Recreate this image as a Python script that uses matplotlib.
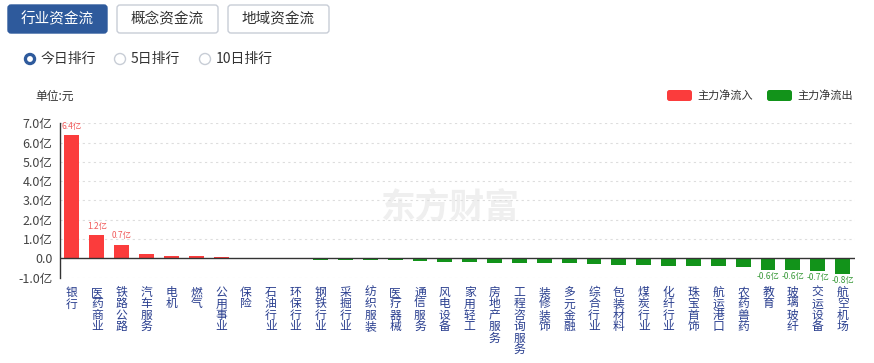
import matplotlib.pyplot as plt
from matplotlib.patches import FancyBboxPatch, Circle
import numpy as np

plt.rcParams['font.family'] = ['Noto Sans CJK SC', 'DejaVu Sans']

RED_COLOR = '#fb3c3c'
GREEN_COLOR = '#12931a'
LABEL_COLOR = '#2a3f8f'

sectors = ['银行', '医药商业', '铁路公路', '汽车服务', '电机', '燃气', '公用事业', '保险',
           '石油行业', '环保行业', '钢铁行业', '采掘行业', '纺织服装', '医疗器械', '通信服务',
           '风电设备', '家用轻工', '房地产服务', '工程咨询服务', '装修装饰', '多元金融',
           '综合行业', '包装材料', '煤炭行业', '化纤行业', '珠宝首饰', '航运港口', '农药兽药',
           '教育', '玻璃玻纤', '交运设备', '航空机场']
net_flow = [6.4, 1.2, 0.72, 0.24, 0.15, 0.15, 0.07, 0.04,
            0.01, -0.01, -0.07, -0.08, -0.09, -0.10, -0.12,
            -0.20, -0.20, -0.22, -0.22, -0.24, -0.26,
            -0.27, -0.33, -0.36, -0.38, -0.39, -0.41, -0.43,
            -0.58, -0.60, -0.67, -0.81]
labelled = [0, 1, 2, 28, 29, 30, 31]
y_ticks = [-1, 0, 1, 2, 3, 4, 5, 6, 7]

W, H = 874, 363
fig = plt.figure(figsize=(W / 100, H / 100), dpi=100)

# background layer in pixel coordinates for the page controls
bg = fig.add_axes([0, 0, 1, 1], zorder=0)
bg.set_xlim(0, W)
bg.set_ylim(H, 0)
bg.axis('off')

buttons = [('行业资金流', 8, 107, True), ('概念资金流', 117, 218, False), ('地域资金流', 228, 329, False)]
for text, x0, x1, active in buttons:
    face = '#2e5a9c' if active else 'white'
    edge = '#2e5a9c' if active else '#c8cdd6'
    bg.add_patch(FancyBboxPatch((x0, 5), x1 - x0, 28, boxstyle='round,pad=0,rounding_size=3',
                                facecolor=face, edgecolor=edge, lw=1))
    bg.text((x0 + x1) / 2, 19.5, text, ha='center', va='center', fontsize=10.5,
            color='white' if active else '#333333')

radios = [('今日排行', 30, True), ('5日排行', 120, False), ('10日排行', 205, False)]
for text, cx, active in radios:
    if active:
        bg.add_patch(Circle((cx, 59), 5.5, facecolor='#2e5a9c', edgecolor='#2e5a9c'))
        bg.add_patch(Circle((cx, 59), 2.2, facecolor='white', edgecolor='white'))
    else:
        bg.add_patch(Circle((cx, 59), 5.5, facecolor='white', edgecolor='#c8cdd6', lw=1))
    bg.text(cx + 11, 59, text, ha='left', va='center', fontsize=10, color='#333333')

bg.text(35, 96, '单位:元', ha='left', va='center', fontsize=8.5, color='#333333')

# legend
bg.add_patch(FancyBboxPatch((667, 90), 25, 11, boxstyle='round,pad=0,rounding_size=2.5',
                            facecolor=RED_COLOR, edgecolor='none'))
bg.text(697, 95.5, '主力净流入', ha='left', va='center', fontsize=8, color='#333333')
bg.add_patch(FancyBboxPatch((767, 90), 25, 11, boxstyle='round,pad=0,rounding_size=2.5',
                            facecolor=GREEN_COLOR, edgecolor='none'))
bg.text(797, 95.5, '主力净流出', ha='left', va='center', fontsize=8, color='#333333')

# watermark
bg.text(450, 207, '东方财富', ha='center', va='center', fontsize=25, fontweight='bold',
        color='#efefef', zorder=0.5)

# main chart
left, right = 59.5 / W, 855 / W
bottom, top = 1 - 277.7 / H, 1 - 123.3 / H
ax = fig.add_axes([left, bottom, right - left, top - bottom], zorder=1)
ax.patch.set_alpha(0)

x = np.arange(len(sectors))
colors = [RED_COLOR if v >= 0 else GREEN_COLOR for v in net_flow]
ax.bar(x, net_flow, width=0.6, color=colors, zorder=3)

for i in labelled:
    v = net_flow[i]
    txt = f'{v:.1f}亿'
    if v >= 0:
        ax.annotate(txt, (x[i], v), xytext=(0, 3), textcoords='offset points',
                    ha='center', va='bottom', fontsize=6, color='#f05a5a')
    else:
        ax.annotate(txt, (x[i], v), xytext=(0, -1.5), textcoords='offset points',
                    ha='center', va='top', fontsize=6, color='#3a9a3a')

ax.set_xlim(-0.5, len(sectors) - 0.5)
ax.set_ylim(-1, 7)
ax.set_yticks(y_ticks)
ax.set_yticklabels(['0.0' if t == 0 else f'{t:.1f}亿' for t in y_ticks])
ax.set_xticks(x)
ax.set_xticklabels(['\n'.join(s) for s in sectors], fontsize=8.5, color=LABEL_COLOR,
                   linespacing=0.84, va='top')
ax.tick_params(axis='both', length=0)
ax.tick_params(axis='y', labelsize=9, labelcolor='#444444', pad=5)
ax.tick_params(axis='x', pad=6)

for t in y_ticks:
    if t != 0:
        ax.axhline(t, color='#dddddd', lw=0.8, ls=(0, (2, 3)), zorder=1)
ax.axhline(0, color='#333333', lw=1, zorder=4)

for side in ['top', 'right', 'bottom']:
    ax.spines[side].set_visible(False)
ax.spines['left'].set_color('#333333')
ax.spines['left'].set_linewidth(1)

fig.savefig('out.png', dpi=100)
